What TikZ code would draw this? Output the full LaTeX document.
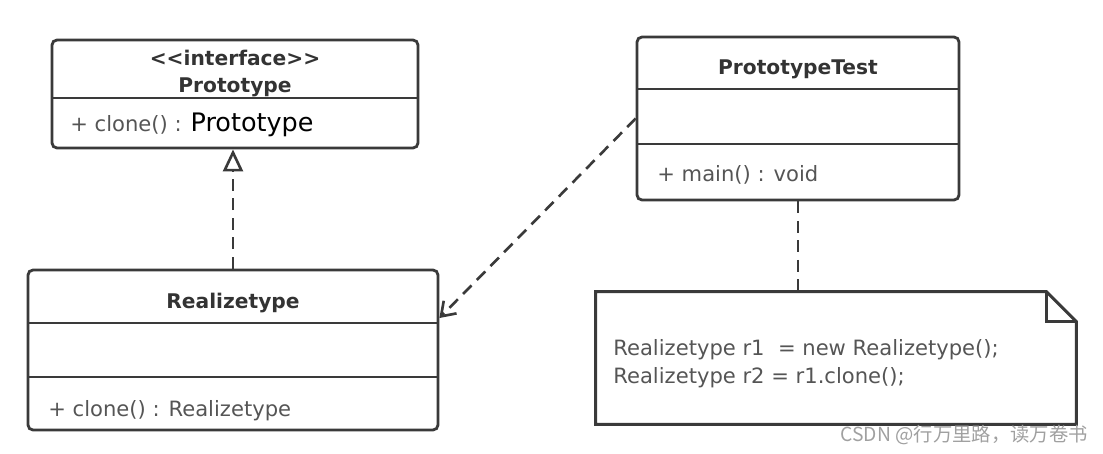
\documentclass[tikz,border=0pt]{standalone}
\usepackage{fontspec}
\setmainfont{DejaVu Sans}
\newfontfamily\cjkfont{Noto Sans CJK SC}
\usetikzlibrary{arrows.meta}
\definecolor{umlline}{HTML}{3A3A3A}
\definecolor{umltext}{HTML}{333333}
\definecolor{umlmeth}{HTML}{555555}
\definecolor{umlmark}{HTML}{A0A0A0}

\begin{document}
\begin{tikzpicture}[
    classbox/.style={draw=umlline, line width=1.6pt, rounded corners=0.1cm, inner sep=0pt},
    notebox/.style={draw=umlline, line width=1.7pt, line join=miter},
    divider/.style={draw=umlline, line width=1.5pt},
    ctitle/.style={font=\fontsize{11.5}{14}\selectfont\bfseries, text=umltext, inner sep=0pt, anchor=base},
    cmember/.style={font=\fontsize{12}{15}\selectfont, text=umlmeth, inner sep=0pt, anchor=base west},
    link/.style={draw=umlline, line width=1.5pt, dash pattern=on 0.24cm off 0.15cm},
  ]
  \useasboundingbox (0,0) rectangle (22.06,-9.06);

  % Interface Prototype
  \node[classbox, minimum width=7.32cm, minimum height=2.16cm] (proto) at (4.70,-1.88) {};
  \draw[divider] (1.04,-1.96) -- (8.36,-1.96);
  \node[ctitle] (protoStereo) at (4.70,-1.30) {<{}<interface>{}>};
  \node[ctitle] (protoName) at (4.70,-1.85) {Prototype};
  \node[cmember] (protoClone) at (1.40,-2.63)
    {+ clone() : \textcolor{black}{\fontsize{14.5}{16}\selectfont Prototype}};

  % Class Realizetype
  \node[classbox, minimum width=8.20cm, minimum height=3.20cm] (real) at (4.66,-7.00) {};
  \draw[divider] (0.56,-6.46) -- (8.76,-6.46);
  \draw[divider] (0.56,-7.54) -- (8.76,-7.54);
  \node[ctitle] (realName) at (4.66,-6.17) {Realizetype};
  \node[cmember] (realClone) at (0.96,-8.32) {+ clone() : Realizetype};

  % Class PrototypeTest
  \node[classbox, minimum width=6.44cm, minimum height=3.26cm] (test) at (15.96,-2.37) {};
  \draw[divider] (12.74,-1.78) -- (19.18,-1.78);
  \draw[divider] (12.74,-2.88) -- (19.18,-2.88);
  \node[ctitle] (testName) at (15.96,-1.49) {PrototypeTest};
  \node[cmember] (testMain) at (13.14,-3.63) {+ main() : void};

  % Note with folded corner
  \node[minimum width=9.6cm, minimum height=2.64cm, inner sep=0pt] (note) at (16.72,-7.16) {};
  \draw[notebox] (note.north west) -- ([xshift=-0.6cm]note.north east)
    -- ([yshift=-0.6cm]note.north east) -- (note.south east) -- (note.south west) -- cycle;
  \draw[notebox] ([xshift=-0.6cm]note.north east) |- ([yshift=-0.6cm]note.north east);
  \node[cmember] (noteLine1) at (12.26,-7.10) {Realizetype r1 \ = new Realizetype();};
  \node[cmember] (noteLine2) at (12.26,-7.67) {Realizetype r2 = r1.clone();};

  % Connectors
  \coordinate (realDep) at ([yshift=0.64cm]real.east);
  \draw[link, -{Triangle[open, length=0.44cm, width=0.4cm]}] (real.north) -- (real.north |- proto.south);
  \draw[link, -{Straight Barb[length=0.26cm, width=0.36cm]}] (test.west) -- (realDep);
  \draw[link] (test.south) -- (test.south |- note.north);

  % Watermark
  \node[font=\cjkfont\fontsize{11}{13}\selectfont, text=umlmark, inner sep=0pt, anchor=base east]
    (mark) at (21.76,-8.83) {CSDN @行万里路，读万卷书};
\end{tikzpicture}
\end{document}
